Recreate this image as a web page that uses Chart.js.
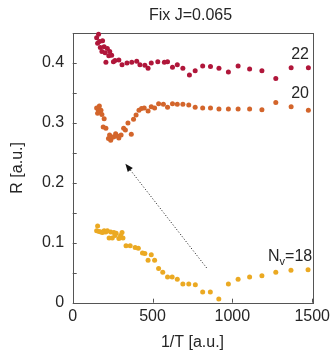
<!DOCTYPE html>
<html>
<head>
<meta charset="utf-8">
<script src="https://cdn.jsdelivr.net/npm/chart.js@4.4.1/dist/chart.umd.min.js"></script>
<style>
  html, body { margin: 0; padding: 0; background: #fff; }
  canvas { display: block; }
</style>
</head>
<body>
<canvas id="c" width="334" height="355"></canvas>
<script>
// R versus 1/T at fixed J for three values of N_v
const seriesNames = ['22', '20', '18'];

const x22 = [150, 156, 162, 168, 173, 183, 187, 197, 203, 208, 217, 226, 232, 244, 255, 265, 289, 309, 340, 370, 401, 421, 452, 472, 492, 533, 574, 594, 625, 655, 690, 731, 767, 814, 863, 916, 975, 1036, 1108, 1185, 1272, 1368, 1476];
const y22 = [0.442, 0.433, 0.448, 0.436, 0.426, 0.419, 0.437, 0.427, 0.417, 0.401, 0.424, 0.412, 0.419, 0.413, 0.402, 0.404, 0.405, 0.397, 0.400, 0.401, 0.403, 0.397, 0.396, 0.391, 0.400, 0.402, 0.401, 0.402, 0.393, 0.397, 0.391, 0.380, 0.387, 0.395, 0.394, 0.391, 0.385, 0.395, 0.390, 0.387, 0.374, 0.392, 0.392];

const x20 = [150, 156, 160, 167, 172, 177, 183, 191, 197, 208, 224, 231, 238, 250, 258, 269, 279, 289, 303, 319, 330, 346, 367, 381, 397, 415, 431, 448, 472, 492, 513, 538, 568, 594, 625, 655, 690, 727, 767, 814, 863, 916, 975, 1036, 1108, 1185, 1272, 1368, 1476];
const y20 = [0.325, 0.316, 0.322, 0.328, 0.318, 0.321, 0.314, 0.293, 0.307, 0.291, 0.274, 0.280, 0.271, 0.276, 0.277, 0.282, 0.278, 0.275, 0.280, 0.291, 0.288, 0.300, 0.281, 0.306, 0.313, 0.321, 0.324, 0.325, 0.320, 0.327, 0.325, 0.332, 0.331, 0.326, 0.332, 0.331, 0.331, 0.330, 0.326, 0.325, 0.325, 0.323, 0.323, 0.323, 0.323, 0.322, 0.334, 0.327, 0.321];

const x18 = [150, 156, 165, 177, 187, 197, 207, 217, 228, 238, 248, 258, 265, 272, 289, 300, 309, 315, 334, 360, 391, 411, 437, 452, 472, 492, 513, 538, 564, 594, 623, 655, 690, 727, 768, 814, 862, 915, 975, 1036, 1108, 1185, 1272, 1367, 1474];
const y18 = [0.120, 0.128, 0.119, 0.118, 0.117, 0.120, 0.118, 0.120, 0.108, 0.118, 0.108, 0.117, 0.112, 0.116, 0.107, 0.112, 0.117, 0.108, 0.095, 0.095, 0.092, 0.091, 0.083, 0.082, 0.071, 0.080, 0.071, 0.057, 0.051, 0.043, 0.043, 0.039, 0.031, 0.031, 0.030, 0.018, 0.018, 0.006, 0.031, 0.039, 0.043, 0.045, 0.051, 0.054, 0.055];

const xTickValues = [0, 500, 1000, 1500];
const yTickValues = [0, 0.05, 0.1, 0.15, 0.2, 0.25, 0.3, 0.35, 0.4, 0.45];
const yTickLabels = ['0', '', '0.1', '', '0.2', '', '0.3', '', '0.4', ''];

const colors = ['#b0163a', '#d3652b', '#eba922'];
const FONT = '"Liberation Sans", Arial, Helvetica, sans-serif';
const TEXT = '#262626';

function toPoints(xs, ys) { return xs.map((x, i) => ({ x: x, y: ys[i] })); }

// Frame, inward ticks, arrow and in-plot labels
const decorations = {
  id: 'decorations',
  beforeDatasetsDraw(chart) {
    const { ctx, chartArea: a, scales: { x, y } } = chart;
    ctx.save();
    ctx.strokeStyle = '#555';
    ctx.lineWidth = 1;
    ctx.strokeRect(Math.round(a.left) + 0.5, Math.round(a.top) + 0.5,
                   Math.round(a.right - a.left), Math.round(a.bottom - a.top));
    ctx.beginPath();
    xTickValues.forEach(v => {
      const px = Math.round(x.getPixelForValue(v)) + 0.5;
      ctx.moveTo(px, a.bottom); ctx.lineTo(px, a.bottom - 4);
    });
    yTickValues.forEach(v => {
      const py = Math.round(y.getPixelForValue(v)) + 0.5;
      ctx.moveTo(a.left, py); ctx.lineTo(a.left + 4, py);
    });
    ctx.stroke();
    ctx.restore();
  },
  afterDatasetsDraw(chart) {
    const { ctx, scales: { x, y } } = chart;
    ctx.save();
    // dotted arrow pointing from the N_v=18 curve toward the N_v=20 dip
    const x0 = x.getPixelForValue(839), y0 = y.getPixelForValue(0.058);
    const x1 = x.getPixelForValue(330), y1 = y.getPixelForValue(0.232);
    const ang = Math.atan2(y1 - y0, x1 - x0);
    const head = 8;
    ctx.strokeStyle = '#111';
    ctx.lineWidth = 1;
    ctx.setLineDash([1, 2]);
    ctx.beginPath();
    ctx.moveTo(x0, y0);
    ctx.lineTo(x1 - head * Math.cos(ang), y1 - head * Math.sin(ang));
    ctx.stroke();
    ctx.setLineDash([]);
    ctx.fillStyle = '#111';
    ctx.beginPath();
    ctx.moveTo(x1, y1);
    ctx.lineTo(x1 - head * Math.cos(ang) + 3.2 * Math.sin(ang), y1 - head * Math.sin(ang) - 3.2 * Math.cos(ang));
    ctx.lineTo(x1 - head * Math.cos(ang) - 3.2 * Math.sin(ang), y1 - head * Math.sin(ang) + 3.2 * Math.cos(ang));
    ctx.closePath();
    ctx.fill();

    // title
    ctx.fillStyle = TEXT;
    ctx.font = '16px ' + FONT;
    ctx.textBaseline = 'alphabetic';
    ctx.textAlign = 'center';
    ctx.fillText('Fix J=0.065', 190.5, 20);

    // series labels
    ctx.textAlign = 'right';
    ctx.fillText(seriesNames[0], x.getPixelForValue(1480), y.getPixelForValue(0.406));
    ctx.fillText(seriesNames[1], x.getPixelForValue(1480), y.getPixelForValue(0.341));

    const right = x.getPixelForValue(1500), base = y.getPixelForValue(0.0695);
    ctx.textAlign = 'left';
    ctx.font = '16px ' + FONT;
    const wN = ctx.measureText('N').width;
    const wRest = ctx.measureText('=' + seriesNames[2]).width;
    ctx.font = '11px ' + FONT;
    const wv = ctx.measureText('v').width;
    let cx = right - (wN + wv + wRest);
    ctx.font = '16px ' + FONT;
    ctx.fillText('N', cx, base); cx += wN;
    ctx.font = '11px ' + FONT;
    ctx.fillText('v', cx, base + 4); cx += wv;
    ctx.font = '16px ' + FONT;
    ctx.fillText('=' + seriesNames[2], cx, base);
    ctx.restore();
  }
};

new Chart(document.getElementById('c'), {
  type: 'scatter',
  data: {
    datasets: [
      { label: seriesNames[0], data: toPoints(x22, y22), backgroundColor: colors[0] },
      { label: seriesNames[1], data: toPoints(x20, y20), backgroundColor: colors[1] },
      { label: seriesNames[2], data: toPoints(x18, y18), backgroundColor: colors[2] }
    ]
  },
  options: {
    responsive: false,
    animation: false,
    devicePixelRatio: 1,
    clip: false,
    layout: { padding: { left: 0, right: 15.7, top: 33, bottom: 0 } },
    elements: { point: { radius: 2.5, borderWidth: 0, hoverRadius: 2.5 } },
    plugins: { legend: { display: false }, tooltip: { enabled: false } },
    scales: {
      x: {
        type: 'linear', min: 0, max: 1500,
        afterBuildTicks: s => { s.ticks = xTickValues.map(v => ({ value: v })); },
        afterFit: s => { s.height = 52.3; },
        grid: { display: false, drawTicks: false },
        border: { display: false },
        ticks: { padding: 4, color: TEXT, font: { family: FONT, size: 16 }, maxRotation: 0, callback: v => String(v) },
        title: { display: true, text: '1/T [a.u.]', color: TEXT, font: { family: FONT, size: 16 }, padding: { top: 0, bottom: 2.5 } }
      },
      y: {
        type: 'linear', min: 0, max: 0.45,
        afterBuildTicks: s => { s.ticks = yTickValues.map(v => ({ value: v })); },
        afterFit: s => { s.width = 72.7; },
        grid: { display: false, drawTicks: false },
        border: { display: false },
        ticks: { padding: 8.5, color: TEXT, font: { family: FONT, size: 16 },
                 callback: (v, i) => yTickLabels[i] },
        title: { display: true, text: 'R [a.u.]', color: TEXT, font: { family: FONT, size: 16 }, padding: { top: 8.4, bottom: 0 } }
      }
    }
  },
  plugins: [decorations]
});
</script>
</body>
</html>
